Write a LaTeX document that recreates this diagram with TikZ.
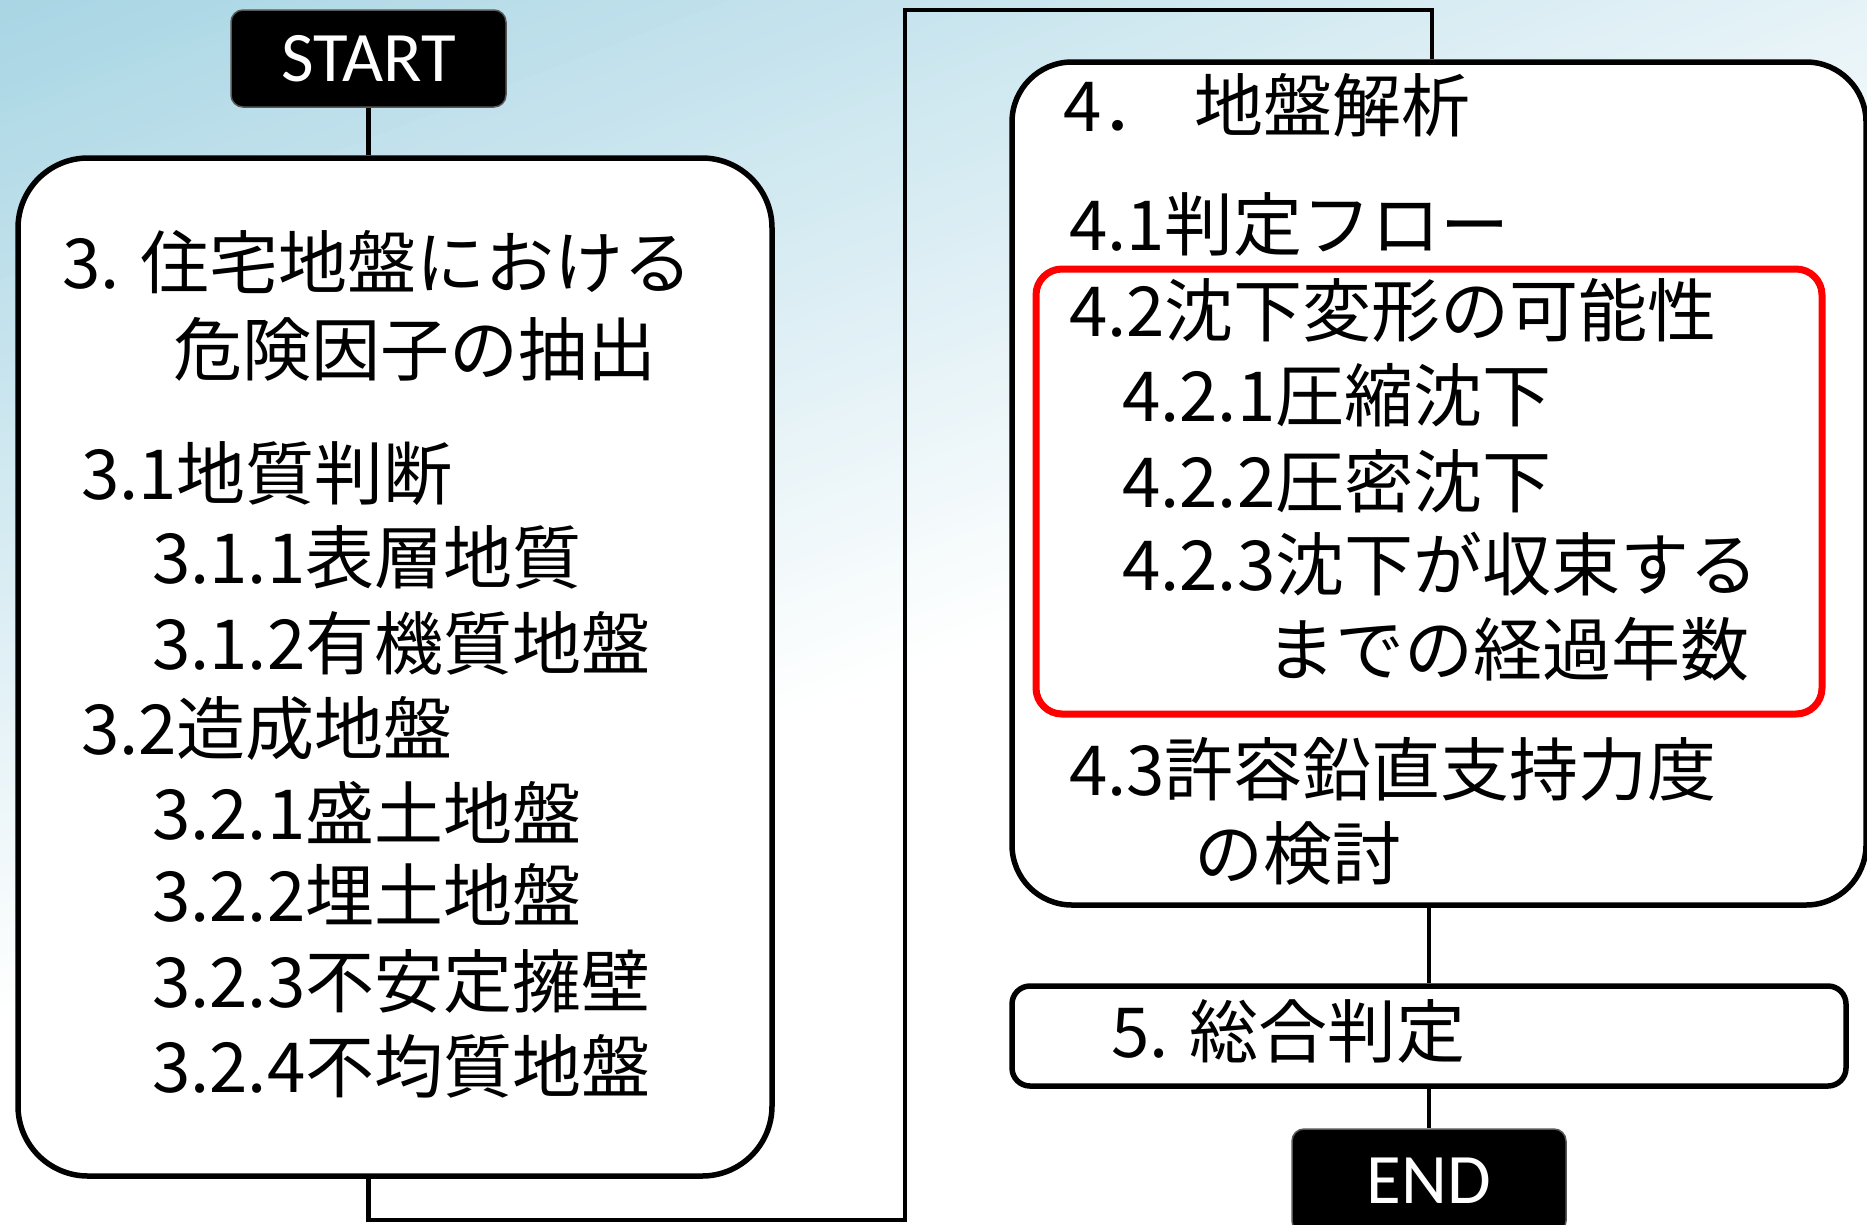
\documentclass[tikz,border=0pt]{standalone}
\usepackage{fontspec}
\newfontfamily\jp{Noto Sans CJK JP}
\newfontfamily\lat{Carlito}
\usetikzlibrary{calc}
\definecolor{bgA}{RGB}{168,213,228}
\definecolor{bgB}{RGB}{255,255,255}
\definecolor{redbox}{RGB}{255,0,0}
\begin{document}
\begin{tikzpicture}[x=1pt,y=-1pt,
  box/.style={draw=black, line width=5.5pt, fill=white, inner sep=0pt},
  termbox/.style={fill=black, draw=black!65, line width=1.5pt, rounded corners=12pt, inner sep=0pt, text=white, font=\lat\fontsize{71}{74}\selectfont},
  conn/.style={line width=4.5pt},
  txt/.style={anchor=base west, inner sep=0pt, font=\jp\fontsize{69}{80}\selectfont}]
\useasboundingbox (0,0) rectangle (1867,1224);
\clip (0,0) rectangle (1867,1224);
% background: diagonal gradient from top-left blue to white (drawn as bands)
\fill[bgB] (0,0) rectangle (1867,1224);
\begin{scope}[rotate=21]
  \foreach \i in {0,...,79}{
    \pgfmathsetmacro{\ya}{11.8875*\i}
    \pgfmathsetmacro{\yb}{11.8875*(\i+1)+1}
    \pgfmathsetmacro{\pc}{100-1.25*(\i+0.5)}
    \fill[bgA!\pc!bgB] (-1500,\ya) rectangle (3500,\yb);
  }
\end{scope}

% boxes (named)
\node[termbox, minimum width=275pt, minimum height=97pt] (start) at (368.5,58.5) {START};
\node[box, rounded corners=70pt, minimum width=754pt, minimum height=1018pt] (b3) at (395,667) {};
\node[box, rounded corners=60pt, minimum width=854pt, minimum height=843pt] (b4) at (1439,483.5) {};
\node[box, rounded corners=18pt, minimum width=834pt, minimum height=100pt] (b5) at (1429,1036) {};
\node[termbox, minimum width=274pt, minimum height=104pt] (endb) at (1429,1181) {END};

% connectors
\coordinate (c1) at (905,1220);
\coordinate (c2) at (1432,10);
\draw[conn] (start.south) -- (start.south |- b3.north);
\draw[conn] (start.south |- b3.south) |- (c1) |- (c2) -- (c2 |- b4.north);
\draw[conn] (b5.north) -- (b5.north |- b4.south);
\draw[conn] (b5.south) -- (endb.north);

% red highlight
\node[draw=redbox, line width=7pt, rounded corners=26pt, minimum width=786pt, minimum height=445pt, inner sep=0pt] (red) at (1429,491.5) {};

% texts in box 3
\node[txt] (t31) at (62,288) {3. 住宅地盤における};
\node[txt] (t32) at (173,375) {危険因子の抽出};
\node[txt] (t33) at (81,499) {3.1地質判断};
\node[txt] (t34) at (152,583) {3.1.1表層地質};
\node[txt] (t35) at (152,669) {3.1.2有機質地盤};
\node[txt] (t36) at (81,754) {3.2造成地盤};
\node[txt] (t37) at (152,839) {3.2.1盛土地盤};
\node[txt] (t38) at (152,921) {3.2.2埋土地盤};
\node[txt] (t39) at (152,1007) {3.2.3不安定擁壁};
\node[txt] (t310) at (152,1092) {3.2.4不均質地盤};

% texts in box 4
\node[txt] (t41) at (1063,131) {4．\kern24pt 地盤解析};
\node[txt] (t42) at (1069,250) {4.1判定フロー};
\node[txt] (t43) at (1069,336) {4.2沈下変形の可能性};
\node[txt] (t44) at (1122,421) {4.2.1圧縮沈下};
\node[txt] (t45) at (1122,507) {4.2.2圧密沈下};
\node[txt] (t46) at (1122,590) {4.2.3沈下が収束する};
\node[txt] (t47) at (1266,675) {までの経過年数};
\node[txt] (t48) at (1069,795) {4.3許容鉛直支持力度};
\node[txt] (t49) at (1194,879) {の検討};

% text in box 5
\node[txt] (t5) at (1111,1057) {5. 総合判定};
\end{tikzpicture}
\end{document}
